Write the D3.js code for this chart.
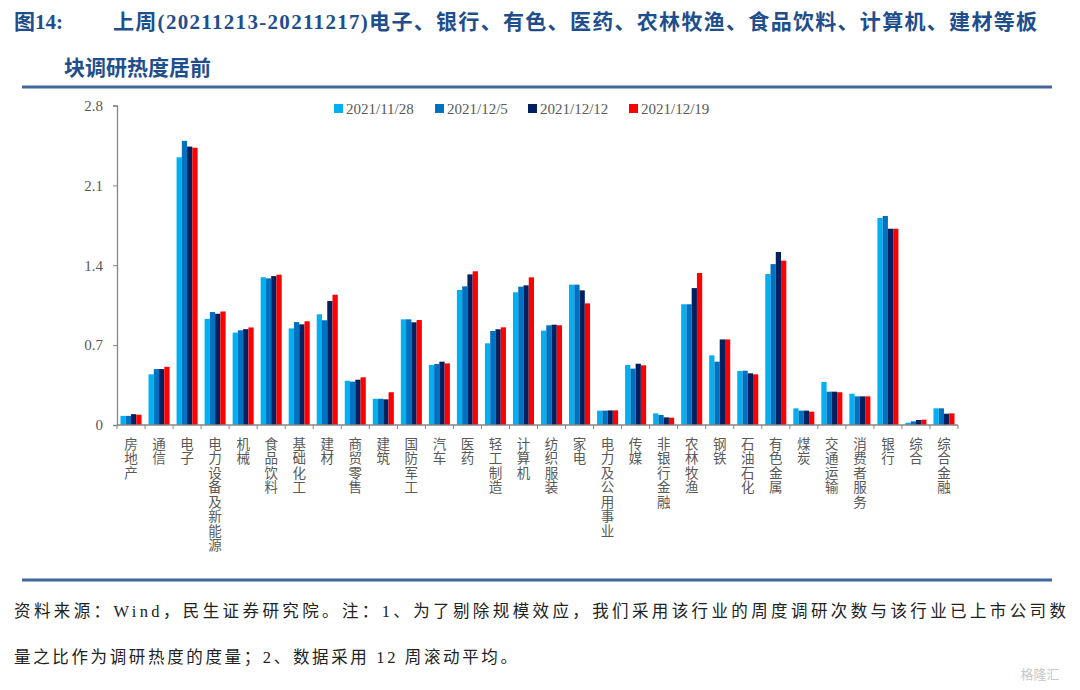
<!DOCTYPE html>
<html><head><meta charset="utf-8">
<script src="https://cdn.jsdelivr.net/npm/d3@7"></script>
<style>
body{margin:0;background:#fff;}
svg{display:block;}
.vlab{writing-mode:vertical-rl;text-orientation:upright;}
</style></head>
<body>
<svg id="c" width="1080" height="690"></svg>
<script>
const categories = ["房地产","通信","电子","电力设备及新能源","机械","食品饮料","基础化工","建材","商贸零售","建筑","国防军工","汽车","医药","轻工制造","计算机","纺织服装","家电","电力及公用事业","传媒","非银行金融","农林牧渔","钢铁","石油石化","有色金属","煤炭","交通运输","消费者服务","银行","综合","综合金融"];
const seriesNames = ["2021/11/28","2021/12/5","2021/12/12","2021/12/19"];
const s1128 = [0.08,0.444,2.346,0.93,0.81,1.295,0.847,0.97,0.388,0.23,0.926,0.526,1.183,0.716,1.163,0.827,1.23,0.126,0.526,0.102,1.058,0.61,0.473,1.323,0.146,0.377,0.274,1.814,0.02,0.146];
const s1205 = [0.08,0.49,2.49,0.99,0.83,1.285,0.902,0.918,0.38,0.23,0.926,0.535,1.215,0.824,1.212,0.874,1.23,0.126,0.494,0.088,1.058,0.555,0.476,1.41,0.126,0.292,0.251,1.832,0.032,0.146];
const s1212 = [0.095,0.49,2.44,0.975,0.84,1.305,0.882,1.087,0.397,0.225,0.9,0.555,1.32,0.839,1.224,0.879,1.18,0.128,0.537,0.067,1.2,0.75,0.453,1.516,0.126,0.292,0.251,1.72,0.044,0.099];
const s1219 = [0.09,0.51,2.43,0.995,0.855,1.317,0.909,1.142,0.418,0.287,0.92,0.54,1.347,0.856,1.294,0.874,1.066,0.128,0.523,0.064,1.332,0.75,0.444,1.44,0.117,0.287,0.251,1.72,0.047,0.102];
const yTicks = [0,0.7,1.4,2.1,2.8];
const colors = ["#00B0F0","#0070C0","#002060","#FF0000"];
const titleLine1a = "图14:";
const titleLine1b = "上周(20211213-20211217)电子、银行、有色、医药、农林牧渔、食品饮料、计算机、建材等板";
const titleLine2 = "块调研热度居前";
const footer1 = "资料来源：Wind，民生证券研究院。注：1、为了剔除规模效应，我们采用该行业的周度调研次数与该行业已上市公司数";
const footer2 = "量之比作为调研热度的度量；2、数据采用 12 周滚动平均。";

const allSeries = [s1128,s1205,s1212,s1219];
const svg = d3.select("#c");
const serif = "'Liberation Serif','Noto Sans CJK SC',serif";
const titleColor = "#1F4E8C";

// Title
svg.append("text").attr("x",14).attr("y",29).attr("font-family",serif).attr("font-weight","bold")
  .attr("font-size",21).attr("fill",titleColor).text(titleLine1a);
svg.append("text").attr("x",113).attr("y",29).attr("font-family",serif).attr("font-weight","bold")
  .attr("font-size",21).attr("fill",titleColor).attr("textLength",924).attr("lengthAdjust","spacing").text(titleLine1b);
svg.append("text").attr("x",64).attr("y",75).attr("font-family",serif).attr("font-weight","bold")
  .attr("font-size",21).attr("fill",titleColor).text(titleLine2);
// rules
svg.append("line").attr("x1",22).attr("x2",1052).attr("y1",87).attr("y2",87).attr("stroke","#41679C").attr("stroke-width",3);
svg.append("line").attr("x1",22).attr("x2",1052).attr("y1",580).attr("y2",580).attr("stroke","#41679C").attr("stroke-width",3);

// Scales
const x = d3.scaleBand().domain(categories).range([117,958]).padding(0);
const xs = d3.scaleBand().domain(seriesNames).range([3.5, x.bandwidth()-3.5]).padding(0);
const y = d3.scaleLinear().domain([0,2.8]).range([425,105.5]);

// Bars
const g = svg.append("g");
categories.forEach((c,i)=>{
  seriesNames.forEach((s,j)=>{
    const v = allSeries[j][i];
    g.append("rect").attr("x",x(c)+xs(s)).attr("width",xs.bandwidth())
      .attr("y",y(v)).attr("height",y(0)-y(v)).attr("fill",colors[j]);
  });
});

// Y axis
const axisColor = "#868686";
const yAxis = svg.append("g").attr("transform","translate(117,0)")
  .call(d3.axisLeft(y).tickValues(yTicks).tickSize(4).tickPadding(10).tickFormat(d=>d===0?"0":d3.format(".1f")(d)));
yAxis.select(".domain").attr("stroke",axisColor).attr("stroke-width",1.3);
yAxis.selectAll(".tick line").attr("stroke",axisColor);
yAxis.selectAll(".tick text").attr("font-family",serif).attr("font-size",15).attr("fill","#595959");

// X axis
const xAxisG = svg.append("g").attr("transform","translate(0,425)");
xAxisG.append("line").attr("x1",117).attr("x2",958).attr("y1",0).attr("y2",0).attr("stroke",axisColor).attr("stroke-width",1.3);
const bounds = categories.map(c=>x(c)).concat([x.range()[1]]);
xAxisG.selectAll("line.tk").data(bounds).enter().append("line").attr("class","tk")
  .attr("x1",d=>d).attr("x2",d=>d).attr("y1",0).attr("y2",4).attr("stroke",axisColor);

// X labels (vertical)
categories.forEach(c=>{
  svg.append("text").attr("class","vlab")
    .attr("x",x(c)+x.bandwidth()/2).attr("y",437)
    .attr("font-family","'Noto Sans CJK SC',sans-serif").attr("font-size",13.5)
    .attr("letter-spacing",1)
    .attr("fill","#595959").text(c);
});

// Legend
const legX = [334,435,528,629];
seriesNames.forEach((s,j)=>{
  svg.append("rect").attr("x",legX[j]).attr("y",104).attr("width",9).attr("height",9).attr("fill",colors[j]);
  svg.append("text").attr("x",legX[j]+12).attr("y",113.5).attr("font-family",serif).attr("font-size",15)
    .attr("fill","#595959").text(s);
});

// Footer
svg.append("text").attr("x",14).attr("y",617).attr("font-family",serif).attr("font-size",16.5)
  .attr("fill","#222").attr("textLength",1052).attr("lengthAdjust","spacing").text(footer1);
svg.append("text").attr("x",14).attr("y",663).attr("font-family",serif).attr("font-size",16.5)
  .attr("fill","#222").attr("textLength",503).attr("lengthAdjust","spacing").text(footer2);
// watermark
svg.append("text").attr("x",1040).attr("y",679).attr("font-family","'Noto Sans CJK SC',sans-serif").attr("font-size",13)
  .attr("fill","#c8c8c8").attr("text-anchor","middle").text("格隆汇");
</script>
</body></html>
